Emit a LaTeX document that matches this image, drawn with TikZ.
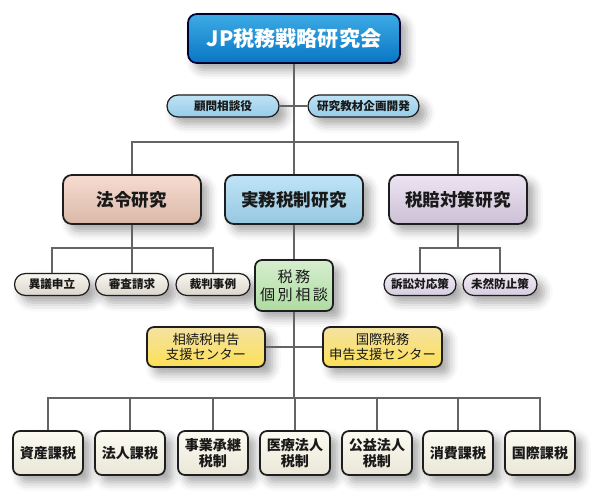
\documentclass[tikz,border=0pt]{standalone}
\usepackage{fontspec}
\setmainfont{Noto Sans CJK JP}
\usepackage{tikz}
\usetikzlibrary{shadows,shadows.blur}
\definecolor{LineaGris}{RGB}{100,100,100}
\definecolor{BordeOscuro}{RGB}{30,30,30}
\definecolor{AzulTitulo}{RGB}{12,150,222}
\definecolor{AzulTituloOsc}{RGB}{8,118,196}
\definecolor{AzulClaro}{RGB}{190,226,244}
\definecolor{AzulClaroOsc}{RGB}{150,204,232}
\definecolor{SalmonA}{RGB}{246,220,208}
\definecolor{SalmonB}{RGB}{218,184,168}
\definecolor{CelesteA}{RGB}{192,228,246}
\definecolor{CelesteB}{RGB}{150,200,226}
\definecolor{LilaA}{RGB}{236,228,242}
\definecolor{LilaB}{RGB}{204,192,214}
\definecolor{BeigeA}{RGB}{248,246,240}
\definecolor{BeigeB}{RGB}{220,214,204}
\definecolor{LilaClaroA}{RGB}{242,236,246}
\definecolor{LilaClaroB}{RGB}{214,204,224}
\definecolor{VerdeA}{RGB}{214,238,206}
\definecolor{VerdeB}{RGB}{174,220,162}
\definecolor{AmarilloA}{RGB}{244,226,162}
\definecolor{AmarilloB}{RGB}{252,224,86}
\definecolor{CremaA}{RGB}{252,251,242}
\definecolor{CremaB}{RGB}{234,231,216}

\begin{document}
\begin{tikzpicture}[x=0.02cm,y=-0.02cm,
  caja/.style={draw=BordeOscuro,line width=1pt,rounded corners=5pt,
    align=center,inner sep=0pt,text=black!90,font=\bfseries,
    blur shadow={shadow xshift=4pt,shadow yshift=-4pt,shadow blur radius=5pt,shadow opacity=35}},
  ovalo/.style={caja,rounded corners=6.2pt,line width=0.7pt,font=\bfseries\fontsize{6.6}{8}\selectfont,
    minimum height=0.44cm},
  linea/.style={draw=LineaGris,line width=0.6pt}]
  \useasboundingbox (0,0) rectangle (600,500);

  % cabecera
  \node[caja,draw=black!80!blue,top color=AzulTitulo!80!white,bottom color=AzulTituloOsc,
    minimum width=4.24cm,minimum height=0.98cm,text=white,font=\bfseries\fontsize{12}{14}\selectfont]
    (kai) at (294,38.5) {JP税務戦略研究会};
  \node[ovalo,top color=AzulClaro,bottom color=AzulClaroOsc,minimum width=2.24cm] (komon) at (223,106) {顧問相談役};
  \node[ovalo,top color=AzulClaro,bottom color=AzulClaroOsc,minimum width=2.22cm] (kyozai) at (363.5,106) {研究教材企画開発};

  % tres areas
  \node[caja,top color=SalmonA,bottom color=SalmonB,minimum width=2.76cm,minimum height=0.98cm,
    font=\bfseries\fontsize{10}{12}\selectfont] (hourei) at (132,199.5) {法令研究};
  \node[caja,top color=CelesteA,bottom color=CelesteB,minimum width=2.76cm,minimum height=0.98cm,
    font=\bfseries\fontsize{10}{12}\selectfont] (jitsumu) at (294,199.5) {実務税制研究};
  \node[caja,top color=LilaA,bottom color=LilaB,minimum width=2.76cm,minimum height=0.98cm,
    font=\bfseries\fontsize{10}{12}\selectfont] (zeibai) at (458,199.5) {税賠対策研究};

  \node[ovalo,top color=BeigeA,bottom color=BeigeB,minimum width=1.5cm] (igi) at (52,284.5) {異議申立};
  \node[ovalo,top color=BeigeA,bottom color=BeigeB,minimum width=1.46cm] (shinsa) at (132,284.5) {審査請求};
  \node[ovalo,top color=BeigeA,bottom color=BeigeB,minimum width=1.48cm] (saiban) at (213,284.5) {裁判事例};
  \node[ovalo,top color=LilaClaroA,bottom color=LilaClaroB,minimum width=1.44cm] (soshou) at (420,284.5) {訴訟対応策};
  \node[ovalo,top color=LilaClaroA,bottom color=LilaClaroB,minimum width=1.48cm] (mizen) at (500,284.5) {未然防止策};

  \node[caja,rounded corners=4pt,top color=VerdeA,bottom color=VerdeB,minimum width=1.56cm,minimum height=1.02cm,
    font=\fontsize{8.6}{10.2}\selectfont] (soudan) at (294,285.5) {税\,務\\個\,別\,相\,談};

  % centros
  \node[caja,rounded corners=4pt,top color=AmarilloA,bottom color=AmarilloB,minimum width=2.36cm,minimum height=0.8cm,
    font=\fontsize{7.6}{8.6}\selectfont] (souzoku) at (206,347) {相続税申告\\支援センター};
  \node[caja,rounded corners=4pt,top color=AmarilloA,bottom color=AmarilloB,minimum width=2.38cm,minimum height=0.8cm,
    font=\fontsize{7.6}{8.6}\selectfont] (kokusai) at (382.5,347) {国際税務\\申告支援センター};

  % fila inferior
  \foreach \x/\t [count=\i] in {48/資産課税,130/法人課税,213/事業承継\\税制,295/医療法人\\税制,
      377/公益法人\\税制,458/消費課税,540/国際課税}
    \node[caja,rounded corners=4pt,top color=CremaA,bottom color=CremaB,minimum width=1.4cm,minimum height=0.88cm,
      font=\bfseries\fontsize{8}{9.2}\selectfont] (b\i) at (\x,453) {\t};

  \coordinate (busA) at (294,142);
  \coordinate (busL) at (132,248);
  \coordinate (busR) at (458,248);
  \coordinate (busB) at (294,398);

  \draw[linea] (kai) -- (jitsumu);
  \draw[linea] (komon) -- (kyozai);
  \draw[linea] (hourei) |- (busA) -| (zeibai);
  \draw[linea] (hourei) -- (shinsa);
  \draw[linea] (igi) |- (busL) -| (saiban);
  \draw[linea] (zeibai) -- (busR);
  \draw[linea] (soshou) |- (busR) -| (mizen);
  \draw[linea] (jitsumu) -- (soudan);
  \draw[linea] (soudan) -- (busB);
  \draw[linea] (souzoku) -- (kokusai);
  \draw[linea] (b1) |- (busB) -| (b7);
  \foreach \i in {2,...,6}
    \draw[linea] (b\i) -- (b\i |- busB);
\end{tikzpicture}
\end{document}
